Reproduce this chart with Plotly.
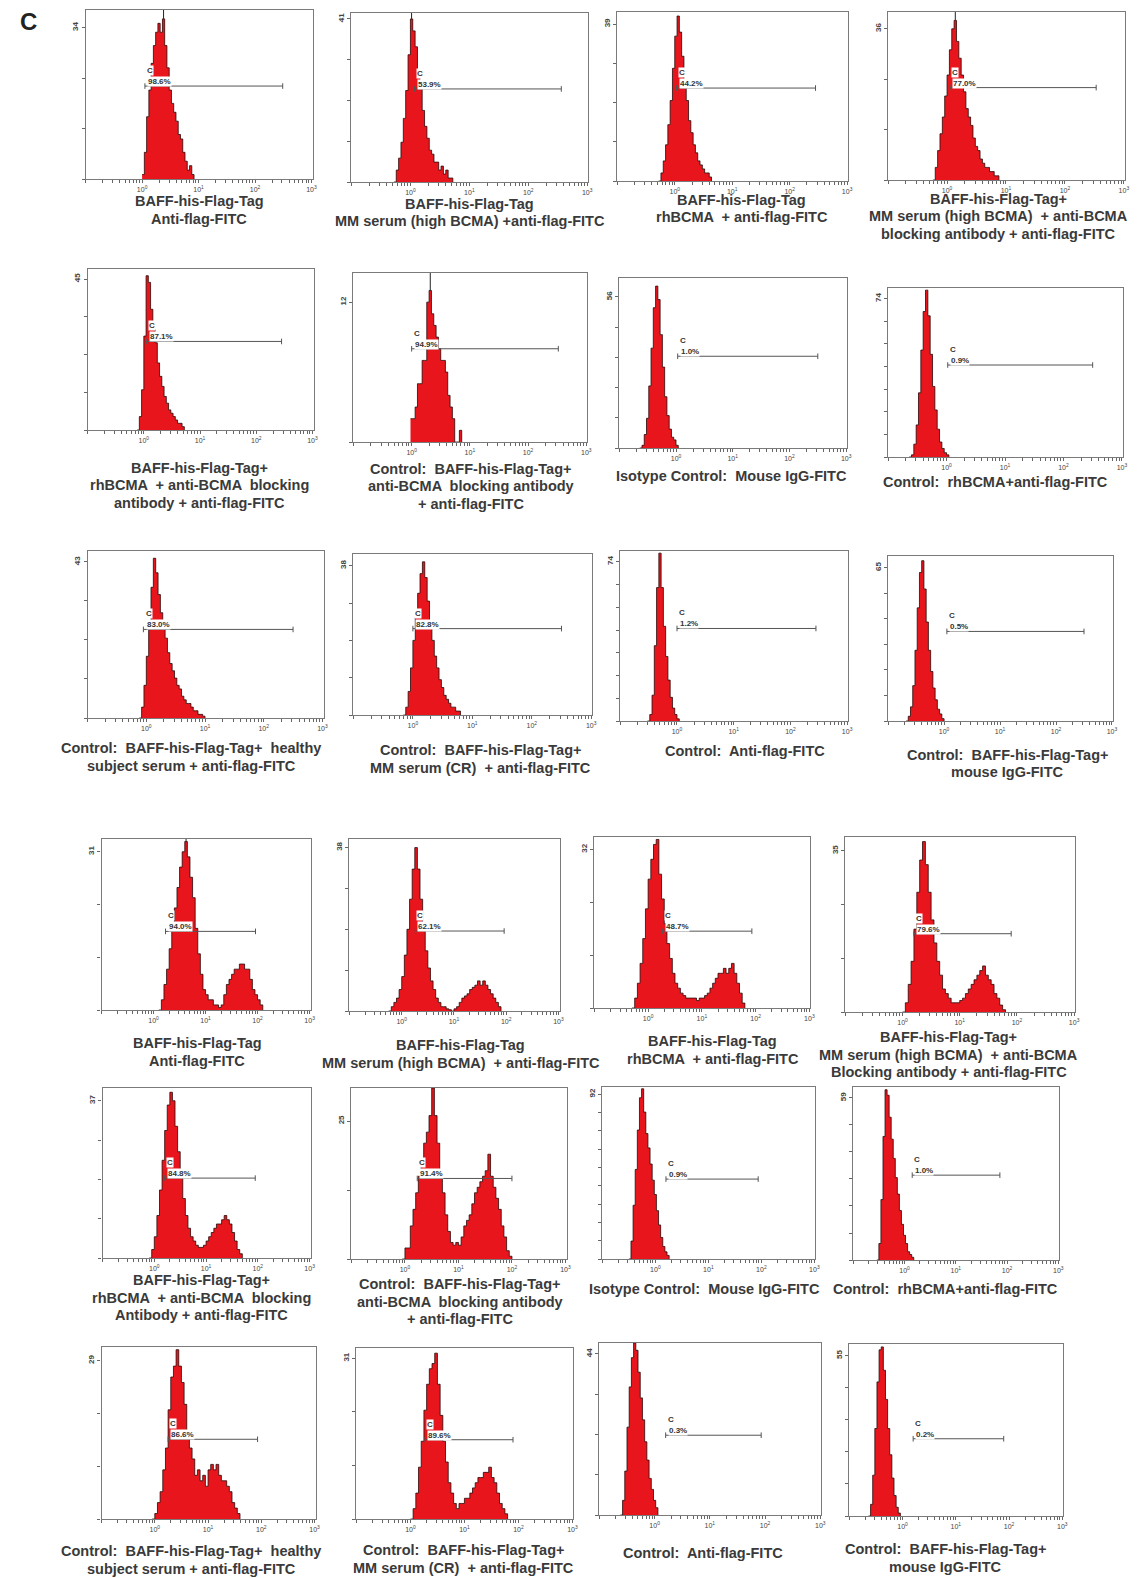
import plotly.graph_objects as go

W, H = 1144, 1578

# ---------------- data ----------------
peak_labels = [34, 41, 39, 36, 45, 12, 56, 74, 43, 38, 74, 65,
               31, 38, 32, 35, 37, 25, 92, 59, 29, 31, 44, 55]
y_axis_max = [38, 42.5, 42, 40, 48, 14.5, 63, 79, 46, 41, 79, 70,
              33.5, 40, 34.5, 38, 40, 31, 96, 63, 31.5, 33, 47, 59]
percent_text = ["98.6%", "53.9%", "44.2%", "77.0%", "87.1%", "94.9%", "1.0%", "0.9%",
                "83.0%", "82.8%", "1.2%", "0.5%", "94.0%", "62.1%", "48.7%", "79.6%",
                "84.8%", "91.4%", "0.9%", "1.0%", "86.6%", "89.6%", "0.3%", "0.2%"]
# gate marker: start / end (log10 units) and level (counts)
gate_start = [0.05, 0.07, 0.03, 0.05, 0.05, 0.0, 0.03, 0.02, -0.05, 0.0, 0.0, 0.05,
              0.23, 0.26, 0.27, 0.2, 0.2, 0.23, 0.2, 0.15, 0.25, 0.27, 0.2, 0.2]
gate_end = [2.49, 2.56, 2.45, 2.53, 2.45, 2.52, 2.5, 2.5, 2.5, 2.5, 2.45, 2.5,
            1.96, 1.96, 1.93, 1.9, 1.95, 2.0, 1.94, 1.86, 1.93, 1.9, 1.93, 1.9]
gate_level = [20.9, 23.4, 23.1, 22, 26.4, 8.0, 34, 43, 24.4, 22, 43, 38,
              15.4, 18.6, 15.5, 17, 18.8, 14.6, 44.6, 30.9, 14.6, 15.3, 21.8, 26.5]
mode_marker = [True, True, False, True, False, True, False, False, False, False, False, False,
               True, False, False, False, False, False, False, False, False, False, False, False]

# histogram: first bin (log10 of fluorescence), bin width (decades), counts
hist_start = [0.0, -0.28, -0.28, -0.24, -0.12, -0.02, -0.64, -0.64, -0.12, -0.16, -0.52, -0.68,
              0.10, -0.25, -0.30, 0.0, -0.10, -0.05, -0.50, -0.54, -0.05, 0.0, -0.62, -0.64]
hist_step = [0.04] * 12 + [0.05] * 6 + [0.04, 0.04, 0.05, 0.05, 0.04, 0.04]
hist_counts = [
    [1, 6, 14, 20, 26, 30, 33, 35, 33, 36, 30, 25, 20, 17, 15, 13, 10, 9, 6, 4, 2, 3, 1, 0],
    [0, 3, 6, 10, 16, 23, 32, 41, 38, 34, 28, 24, 18, 14, 11, 8, 7, 5, 5, 3, 4, 2, 3, 1, 1, 0],
    [0, 2, 5, 9, 14, 20, 28, 36, 41, 37, 31, 25, 20, 15, 12, 9, 7, 5, 4, 3, 2, 2, 1, 0],
    [0, 3, 7, 11, 15, 20, 25, 31, 36, 38, 33, 29, 25, 21, 17, 15, 13, 10, 8, 7, 5, 4, 3, 3, 2, 2, 1, 1, 0],
    [0, 4, 12, 28, 46, 44, 36, 30, 26, 20, 16, 13, 10, 8, 6, 5, 4, 3, 2, 2, 1, 0],
    [2, 2, 3, 5, 5, 7, 7, 12, 13, 11, 10, 9, 8, 7, 7, 6, 4, 3, 2, 0, 0, 1, 0],
    [0, 1, 5, 11, 23, 37, 52, 60, 55, 42, 30, 19, 12, 7, 4, 3, 1, 0],
    [0, 1, 6, 15, 30, 50, 68, 78, 66, 48, 33, 22, 13, 7, 4, 2, 1, 0],
    [0, 3, 9, 17, 26, 36, 44, 40, 34, 29, 25, 22, 18, 15, 13, 11, 9, 8, 6, 5, 4, 4, 3, 2, 2, 1, 1, 0.5, 0],
    [0, 2, 6, 12, 19, 25, 31, 36, 39, 35, 29, 24, 19, 15, 12, 9, 7, 5, 4, 3, 2, 2, 1, 1, 0],
    [0, 3, 12, 35, 62, 78, 62, 44, 30, 19, 11, 6, 3, 1, 0],
    [0, 2, 6, 15, 30, 48, 63, 68, 56, 42, 30, 21, 14, 9, 5, 3, 1, 0],
    [0, 2, 5, 8, 12, 16, 20, 24, 28, 31, 33, 30, 26, 22, 16, 11, 7, 4, 3, 2, 2, 1, 1, 0.5, 1,
     3, 5, 6, 7, 8, 8, 9, 9, 8, 8, 6, 4, 3, 2, 1, 0],
    [0, 1, 2, 3, 5, 8, 13, 19, 26, 33, 38, 33, 26, 19, 14, 10, 7, 5, 3, 2, 1, 1, 0.5, 0.3, 0,
     0.5, 1, 2, 3, 3.5, 4, 5, 5.5, 6, 7, 6, 7, 6, 5, 4, 3, 2, 1, 0],
    [0, 2, 5, 9, 14, 20, 26, 30, 33, 34, 27, 22, 17, 13, 10, 7, 5, 4, 3, 2.5, 2, 2, 2, 2, 1.5,
     2, 2, 2.5, 3, 4, 5, 6, 7, 7, 8, 7, 8, 9, 7, 5, 3, 1, 0],
    [0, 2, 6, 11, 18, 26, 33, 37, 32, 26, 20, 15, 11, 8, 5, 4, 3, 2, 2, 2, 2.5, 3, 4, 5, 6, 7,
     8, 9, 10, 8, 7, 6, 4, 3, 1.5, 0.5, 0],
    [0, 2, 5, 10, 16, 23, 30, 36, 39, 37, 31, 25, 19, 14, 10, 7, 5, 4, 3, 2.5, 2.5, 3, 4, 5, 6,
     7, 8, 8, 9, 10, 9, 8, 6, 4, 2, 1, 0],
    [0, 2, 2, 6, 9, 12, 15, 18, 21, 23, 26, 31, 26, 21, 16, 12, 8, 5, 3, 2.5, 3, 2.5, 4, 6, 7,
     8, 10, 12, 13, 14, 15, 16, 19, 15, 13, 11, 9, 6, 4, 1.5, 0.5, 0],
    [0, 10, 30, 50, 72, 90, 95, 82, 70, 62, 53, 44, 36, 27, 19, 12, 7, 4, 2, 0],
    [0, 6, 22, 45, 62, 60, 52, 44, 37, 30, 24, 18, 13, 9, 6, 3, 2, 1, 0],
    [0, 1, 3, 5, 9, 13, 20, 26, 28, 31, 28, 25, 21, 16, 13, 11, 8, 9, 7, 8, 6, 9, 10, 9, 10, 8,
     7, 7, 6, 5, 3, 2, 1, 0],
    [0, 2, 5, 10, 15, 21, 26, 29, 30, 32, 26, 20, 15, 11, 7, 5, 3, 2, 3, 3, 4, 4, 5, 6, 7, 8, 8,
     9, 9, 10, 8, 7, 5, 3, 2, 1, 0],
    [0, 4, 12, 24, 35, 43, 47, 45, 39, 32, 26, 20, 15, 10, 7, 4, 2, 0],
    [0, 4, 14, 30, 46, 57, 58, 50, 40, 30, 21, 13, 7, 3, 1, 0],
]

captions = [
    ["BAFF-his-Flag-Tag", "Anti-flag-FITC"],
    ["BAFF-his-Flag-Tag", "MM serum (high BCMA) +anti-flag-FITC"],
    ["BAFF-his-Flag-Tag", "rhBCMA  + anti-flag-FITC"],
    ["BAFF-his-Flag-Tag+", "MM serum (high BCMA)  + anti-BCMA", "blocking antibody + anti-flag-FITC"],
    ["BAFF-his-Flag-Tag+", "rhBCMA  + anti-BCMA  blocking", "antibody + anti-flag-FITC"],
    ["Control:  BAFF-his-Flag-Tag+", "anti-BCMA  blocking antibody", "+ anti-flag-FITC"],
    ["Isotype Control:  Mouse IgG-FITC"],
    ["Control:  rhBCMA+anti-flag-FITC"],
    ["Control:  BAFF-his-Flag-Tag+  healthy", "subject serum + anti-flag-FITC"],
    ["Control:  BAFF-his-Flag-Tag+", "MM serum (CR)  + anti-flag-FITC"],
    ["Control:  Anti-flag-FITC"],
    ["Control:  BAFF-his-Flag-Tag+", "mouse IgG-FITC"],
    ["BAFF-his-Flag-Tag", "Anti-flag-FITC"],
    ["BAFF-his-Flag-Tag", "MM serum (high BCMA)  + anti-flag-FITC"],
    ["BAFF-his-Flag-Tag", "rhBCMA  + anti-flag-FITC"],
    ["BAFF-his-Flag-Tag+", "MM serum (high BCMA)  + anti-BCMA", "Blocking antibody + anti-flag-FITC"],
    ["BAFF-his-Flag-Tag+", "rhBCMA  + anti-BCMA  blocking", "Antibody + anti-flag-FITC"],
    ["Control:  BAFF-his-Flag-Tag+", "anti-BCMA  blocking antibody", "+ anti-flag-FITC"],
    ["Isotype Control:  Mouse IgG-FITC"],
    ["Control:  rhBCMA+anti-flag-FITC"],
    ["Control:  BAFF-his-Flag-Tag+  healthy", "subject serum + anti-flag-FITC"],
    ["Control:  BAFF-his-Flag-Tag+", "MM serum (CR)  + anti-flag-FITC"],
    ["Control:  Anti-flag-FITC"],
    ["Control:  BAFF-his-Flag-Tag+", "mouse IgG-FITC"],
]
x_tick_values = [1, 10, 100, 1000]
x_tick_text = ["10<sup>0</sup>", "10<sup>1</sup>", "10<sup>2</sup>", "10<sup>3</sup>"]

# ---------------- layout (pixel boxes) ----------------
boxes = [  # left, top, right, bottom
    (86, 10, 314, 179), (353, 13, 591, 182), (620, 12, 852, 181), (892, 12, 1130, 180),
    (88, 269, 315, 430), (355, 273, 590, 442), (622, 278, 851, 448), (892, 288, 1128, 457),
    (88, 551, 325, 718), (355, 554, 595, 715), (623, 551, 852, 721), (892, 556, 1118, 721),
    (102, 839, 312, 1010), (351, 839, 562, 1011), (597, 837, 814, 1008), (849, 837, 1080, 1012),
    (103, 1088, 312, 1258), (353, 1088, 569, 1259), (605, 1087, 819, 1259), (857, 1087, 1064, 1260),
    (102, 1347, 317, 1519), (358, 1348, 576, 1519), (602, 1343, 825, 1515), (853, 1344, 1068, 1516),
]
caption_pos = [  # x centre, first-line centre y
    (200, 201), (472, 204), (745, 200), (1003, 199),
    (200, 468), (473, 469), (735, 476), (1000, 482),
    (192, 748), (483, 750), (748, 751), (1012, 755),
    (198, 1043), (463, 1045), (716, 1041), (953, 1037),
    (202, 1280), (462, 1284), (708, 1289), (950, 1289),
    (192, 1551), (466, 1550), (706, 1553), (950, 1549),
]
LINE_GAP = 17.5

FONT = "Liberation Sans, Arial, Helvetica, sans-serif"
RED = "#e8161c"
AXC = "#7a7a7a"

fig = go.Figure()
layout = dict(width=W, height=H, margin=dict(l=0, r=0, t=0, b=0),
              paper_bgcolor="white", plot_bgcolor="white", showlegend=False,
              font=dict(family=FONT, color="#333"))
annotations = []

for i in range(24):
    n = i + 1
    xa = "x" if n == 1 else f"x{n}"
    ya = "y" if n == 1 else f"y{n}"
    l, t, r, b = boxes[i]
    L = peak_labels[i]
    ymax = y_axis_max[i]

    xs = [10 ** (hist_start[i] + k * hist_step[i]) for k in range(len(hist_counts[i]))]
    ys = hist_counts[i]
    fig.add_trace(go.Scatter(x=xs, y=ys, xaxis=xa, yaxis=ya, mode="lines",
                             line=dict(color="#2a0808", width=0.8, shape="hv"),
                             fill="tozeroy", fillcolor=RED, hoverinfo="skip"))
    if mode_marker[i]:
        k = max(range(len(ys)), key=lambda j: ys[j])
        px = 10 ** (hist_start[i] + (k + 0.5) * hist_step[i])
        fig.add_trace(go.Scatter(x=[px, px], y=[ys[k], ymax], xaxis=xa, yaxis=ya,
                                 mode="lines", line=dict(color="#222", width=1),
                                 hoverinfo="skip"))
    # gate marker
    fig.add_trace(go.Scatter(x=[10 ** gate_start[i], 10 ** gate_end[i]],
                             y=[gate_level[i], gate_level[i]], xaxis=xa, yaxis=ya,
                             mode="lines+markers",
                             line=dict(color="#555", width=1),
                             marker=dict(symbol="line-ns", size=4,
                                         line=dict(color="#555", width=1)),
                             hoverinfo="skip"))
    annotations.append(dict(xref=xa, yref=ya, x=gate_start[i] + 0.04, y=gate_level[i],
                            text=f"<b>{percent_text[i]}</b>", showarrow=False,
                            xanchor="left", yanchor="bottom", yshift=-1,
                            font=dict(size=8, color="#333", family=FONT),
                            bgcolor="white", borderpad=0))
    annotations.append(dict(xref=xa, yref=ya, x=gate_start[i] + 0.02, y=gate_level[i],
                            text="<b>C</b>", showarrow=False,
                            xanchor="left", yanchor="bottom", yshift=10,
                            font=dict(size=8, color="#333", family=FONT),
                            bgcolor="white", borderpad=0))

    # axes
    nint = max(1, round(L / 10.5))
    yt = [L * k / nint for k in range(nint + 1)]
    layout["xaxis" if n == 1 else f"xaxis{n}"] = dict(
        domain=[l / W, r / W], anchor=ya, type="log", range=[-1, 3.02],
        tickvals=x_tick_values, ticktext=x_tick_text, ticks="outside", ticklen=3,
        tickcolor="#666", tickfont=dict(size=7, color="#444", family=FONT),
        minor=dict(ticks="outside", ticklen=2.5, tickcolor="#666", dtick="D1", showgrid=False),
        showline=True, mirror=True, linecolor=AXC, linewidth=1.2,
        showgrid=False, zeroline=False, fixedrange=True)
    layout["yaxis" if n == 1 else f"yaxis{n}"] = dict(
        domain=[1 - b / H, 1 - t / H], anchor=xa, range=[0, ymax],
        tickvals=[L], ticktext=[f"<b>{L}</b>"], ticks="outside", ticklen=3, tickcolor="#666",
        minor=dict(ticks="outside", ticklen=3, tickcolor="#666", tickvals=yt, showgrid=False),
        tickangle=-90, tickfont=dict(size=8, color="#444", family=FONT),
        showline=True, mirror=True, linecolor=AXC, linewidth=1.2,
        showgrid=False, zeroline=False, fixedrange=True)

    cx, cy = caption_pos[i]
    for j, line in enumerate(captions[i]):
        annotations.append(dict(xref="paper", yref="paper", x=cx / W,
                                y=1 - (cy + j * LINE_GAP) / H,
                                text=f"<b>{line}</b>", showarrow=False,
                                xanchor="center", yanchor="middle",
                                font=dict(size=14.5, color="#3a3a3a", family=FONT)))

annotations.append(dict(xref="paper", yref="paper", x=18 / W, y=1 - 6 / H,
                        text="<b>C</b>", showarrow=False, xanchor="left", yanchor="top",
                        font=dict(size=24, color="#222", family=FONT)))
layout["annotations"] = annotations
fig.update_layout(**layout)
fig.write_html("out.html", config={"displayModeBar": False},
               post_script="document.body.style.margin='0';document.body.style.padding='0';")
